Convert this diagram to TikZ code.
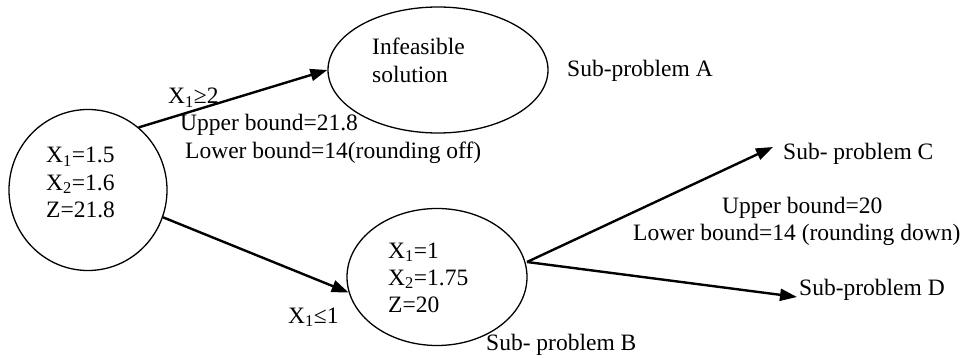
\documentclass[tikz,border=0pt]{standalone}
\usepackage{fontspec}
\setmainfont{Liberation Serif}
\usetikzlibrary{shapes.geometric,arrows.meta}
\begin{document}
\begin{tikzpicture}[x=1pt,y=-1pt,
  oval/.style={draw,ellipse,line width=1.3pt,inner sep=0pt},
  lbl/.style={anchor=base west,inner sep=0pt,font=\fontsize{23.5}{27}\selectfont},
  arr/.style={line width=2.4pt,-{Triangle[length=17pt,width=12pt]}}]
\useasboundingbox (0,0) rectangle (963,358);
\node[oval,minimum width=158pt,minimum height=161pt] (root) at (88,190) {};
\node[oval,minimum width=220pt,minimum height=126pt] (inf) at (438,70) {};
\node[oval,minimum width=180pt,minimum height=137pt] (subB) at (437,277) {};
% root text
\node[lbl] (r1) at (46,163) {X\textsubscript{1}=1.5};
\node[lbl] (r2) at (46,190) {X\textsubscript{2}=1.6};
\node[lbl] (r3) at (46,218) {Z=21.8};
% infeasible
\node[lbl] (i1) at (372,55) {Infeasible};
\node[lbl] (i2) at (372,83) {solution};
\node[lbl] (sa) at (567,77) {Sub-problem A};
% sub B text
\node[lbl] (b1) at (388,258) {X\textsubscript{1}=1};
\node[lbl] (b2) at (388,285) {X\textsubscript{2}=1.75};
\node[lbl] (b3) at (388,312) {Z=20};
\node[lbl] (sb) at (486,350) {Sub- problem B};
% edge labels
\node[lbl] (ge) at (168,104) {X\textsubscript{1}≥2};
\node[lbl] (ub1) at (180,131) {Upper bound=21.8};
\node[lbl] (lb1) at (185,159) {Lower bound=14(rounding off)};
\node[lbl] (le) at (288,323) {X\textsubscript{1}≤1};
\node[lbl] (ub2) at (722,213) {Upper bound=20};
\node[lbl] (lb2) at (633,240) {Lower bound=14 (rounding down)};
\node[lbl] (sc) at (783,160) {Sub- problem C};
\node[lbl] (sd) at (799,295) {Sub-problem D};
% connectors
\coordinate (cC) at (773,147);
\coordinate (cD) at (797,297);
\coordinate (bE) at (527,262);
\draw[arr] (root.51) -- (inf.west);
\draw[arr] (root.-20) -- (subB.190);
\draw[arr] (bE) -- (cC);
\draw[arr] (bE) -- (cD);
\end{tikzpicture}
\end{document}
